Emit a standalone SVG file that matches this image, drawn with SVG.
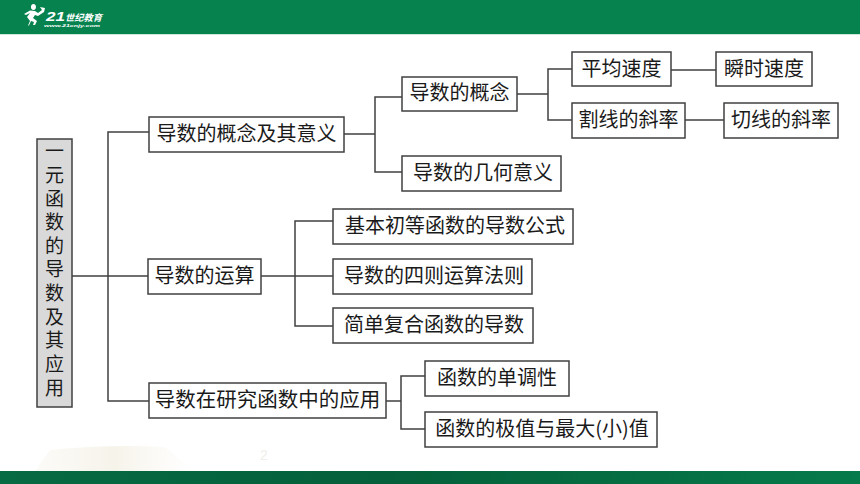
<svg xmlns="http://www.w3.org/2000/svg" width="860" height="484" viewBox="0 0 860 484">
<style>
.box{fill:#fff;stroke:#404040;stroke-width:1.5}
.root{fill:#d9d9d9;stroke:#404040;stroke-width:1.5}
.t{font-family:"Noto Sans CJK SC","Liberation Serif",serif;font-size:20px;fill:#1a1a1a;text-anchor:middle}
.v{font-size:19px;writing-mode:vertical-rl;text-anchor:start;letter-spacing:4.650px}
.c{fill:none;stroke:#404040;stroke-width:1.5}
.logo{font-family:"Liberation Sans","Noto Sans CJK SC",sans-serif;fill:#fff;font-style:italic;font-weight:700}
</style>
<defs>
<linearGradient id="bot" x1="0" x2="1" y1="0" y2="0"><stop offset="0" stop-color="#066a42"/><stop offset="0.45" stop-color="#04603a"/><stop offset="1" stop-color="#067a4a"/></linearGradient>
<linearGradient id="fade" x1="0" x2="1" y1="0" y2="0"><stop offset="0" stop-color="#f4f2e8" stop-opacity="0.3"/><stop offset="0.5" stop-color="#f3f0e4" stop-opacity="0.8"/><stop offset="1" stop-color="#f7f5ee" stop-opacity="0"/></linearGradient>
</defs>
<rect width="860" height="484" fill="#fff"/>
<rect width="860" height="34" fill="#06824f"/>
<rect y="34" width="860" height="1" fill="#cfe6da"/>
<path d="M35 471 L50 450 Q110 444 165 447 L195 471Z" fill="url(#fade)"/>
<text x="260" y="460" font-family="Liberation Sans,sans-serif" font-size="14" fill="#f0f0ea">2</text>
<rect y="471" width="860" height="13" fill="url(#bot)"/>
<g id="logo">
<path d="M19 25.500 H28 L30 21 L27 17 L30 13 L26 15 L24 14 L30 10.500 L35 11 L38 13 L42 10 L40 7 L45 8 L44 12 L38 16 L35 15 L33 18 L37 21 L35 25 H33 L34 22 L31 21 L29 25.500Z M31 7 a2.500 2.500 0 1 1 4.900 0 a2.500 2.500 0 1 1 -4.900 0Z" fill="#fff"/>
<text class="logo" x="46" y="21" font-size="13" textLength="19" lengthAdjust="spacingAndGlyphs">21</text>
<text class="logo" x="65" y="21" font-size="9" textLength="37" lengthAdjust="spacingAndGlyphs">世纪教育</text>
<text class="logo" x="44" y="27" font-size="3.500" textLength="56" lengthAdjust="spacingAndGlyphs">www.21cnjy.com</text>
</g>
<g id="connectors">
<path class="c" d="M72 276H149M149 132H108V401H149"/>
<path class="c" d="M344 134H375M402 97H375V172H402"/>
<path class="c" d="M517 94H548M572 69H548V120H572"/>
<path class="c" d="M671 70H716M685 120H724"/>
<path class="c" d="M261 276H333M333 221H295V326H333"/>
<path class="c" d="M386 401H401M425 376H401V429H425"/>
</g>
<g id="root"><rect class="root" x="37" y="139" width="35" height="268"/>
<text class="t v" x="54.500" y="141.500">一元函数的导数及其应用</text></g>
<g id="n1"><rect class="box" x="149" y="117" width="195" height="35"/><text class="t" x="246.500" y="141">导数的概念及其意义</text></g>
<g id="n2"><rect class="box" x="148" y="259" width="113" height="35"/><text class="t" x="204.500" y="283">导数的运算</text></g>
<g id="n3"><rect class="box" x="149" y="383" width="237" height="35"/><text class="t" x="267.500" y="407" style="font-size:20.500px">导数在研究函数中的应用</text></g>
<g id="n11"><rect class="box" x="402" y="77" width="115" height="34"/><text class="t" x="459.500" y="100">导数的概念</text></g>
<g id="n12"><rect class="box" x="402" y="156" width="159" height="35"/><text class="t" x="483" y="180">导数的几何意义</text></g>
<g id="n111"><rect class="box" x="572" y="52" width="99" height="34"/><text class="t" x="621.500" y="76">平均速度</text></g>
<g id="n112"><rect class="box" x="716" y="52" width="96" height="34"/><text class="t" x="764" y="76">瞬时速度</text></g>
<g id="n113"><rect class="box" x="572" y="103" width="113" height="35"/><text class="t" x="628.500" y="127">割线的斜率</text></g>
<g id="n114"><rect class="box" x="724" y="103" width="114" height="35"/><text class="t" x="781" y="127">切线的斜率</text></g>
<g id="n21"><rect class="box" x="333" y="209" width="240" height="35"/><text class="t" x="455" y="233">基本初等函数的导数公式</text></g>
<g id="n22"><rect class="box" x="333" y="259" width="199" height="35"/><text class="t" x="434" y="283">导数的四则运算法则</text></g>
<g id="n23"><rect class="box" x="333" y="308" width="200" height="35"/><text class="t" x="434" y="332">简单复合函数的导数</text></g>
<g id="n31"><rect class="box" x="425" y="361" width="144" height="35"/><text class="t" x="497" y="385">函数的单调性</text></g>
<g id="n32"><rect class="box" x="425" y="412" width="232" height="35"/><text class="t" x="542" y="436">函数的极值与最大(小)值</text></g>
</svg>
